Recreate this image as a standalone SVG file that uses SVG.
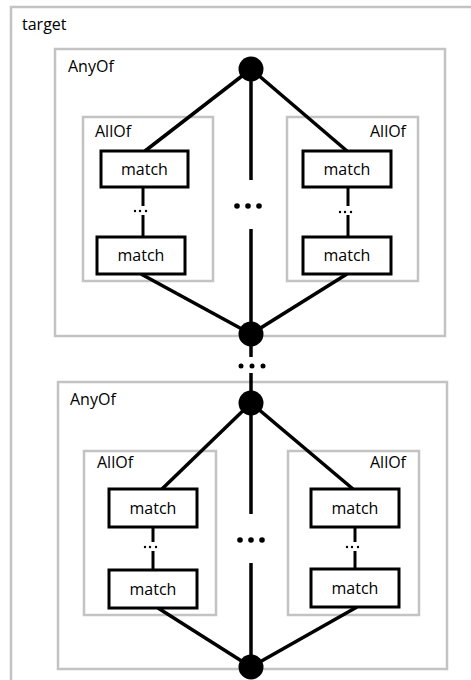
<svg xmlns="http://www.w3.org/2000/svg" width="471" height="680" viewBox="0 0 471 680">
<style>
.box{fill:none;stroke:#c3c3c3;stroke-width:2.5}
.m{fill:#fff;stroke:#000;stroke-width:3}
.lbl{font-family:"Open Sans","Liberation Sans",Arial,sans-serif;font-size:16px;fill:#000}
.mt{font-family:"Open Sans","Liberation Sans",Arial,sans-serif;font-size:16px;fill:#000;text-anchor:middle}
.c{stroke:#000;stroke-width:3.5;fill:none}
.thin{stroke:#000;stroke-width:3;fill:none}
.dot{fill:#000}
</style>
<rect width="471" height="680" fill="#fff"/>
<g id="target">
<rect class="box" x="11" y="7" width="475" height="690"/>
<text class="lbl" x="22" y="30">target</text>
</g>
<g id="anyof1">
<rect class="box" x="55" y="49" width="390" height="287"/>
<text class="lbl" x="68" y="72">AnyOf</text>
</g>
<g id="allof1a">
<rect class="box" x="83" y="117" width="130" height="164"/>
<text class="lbl" x="95" y="137">AllOf</text>
</g>
<g id="allof1b">
<rect class="box" x="287" y="117" width="131" height="164"/>
<text class="lbl" x="406" y="137" text-anchor="end">AllOf</text>
</g>
<g id="anyof2">
<rect class="box" x="58" y="382" width="389" height="287"/>
<text class="lbl" x="70" y="405">AnyOf</text>
</g>
<g id="allof2a">
<rect class="box" x="84" y="451" width="132" height="164"/>
<text class="lbl" x="97" y="468">AllOf</text>
</g>
<g id="allof2b">
<rect class="box" x="288" y="451" width="131" height="164"/>
<text class="lbl" x="406" y="468" text-anchor="end">AllOf</text>
</g>
<g id="connectors">
<line class="c" x1="251" y1="69" x2="145" y2="151"/>
<line class="c" x1="251" y1="69" x2="347" y2="151"/>
<line class="c" x1="251" y1="69" x2="251" y2="180"/>
<line class="c" x1="251" y1="229" x2="251" y2="334"/>
<line class="c" x1="141" y1="274" x2="251" y2="334"/>
<line class="c" x1="347" y1="274" x2="251" y2="334"/>
<line class="thin" x1="143" y1="187" x2="143" y2="206"/>
<line class="thin" x1="143" y1="215" x2="143" y2="237"/>
<line class="thin" x1="348" y1="187" x2="348" y2="206"/>
<line class="thin" x1="348" y1="215" x2="348" y2="237"/>
<line class="c" x1="251" y1="334" x2="251" y2="357"/>
<line class="c" x1="251" y1="373" x2="251" y2="403"/>
<line class="c" x1="251" y1="403" x2="162" y2="489"/>
<line class="c" x1="251" y1="403" x2="353" y2="489"/>
<line class="c" x1="251" y1="403" x2="251" y2="514"/>
<line class="c" x1="251" y1="563" x2="251" y2="667"/>
<line class="c" x1="158" y1="608" x2="251" y2="667"/>
<line class="c" x1="357" y1="607" x2="251" y2="667"/>
<line class="thin" x1="153" y1="527" x2="153" y2="542"/>
<line class="thin" x1="153" y1="551" x2="153" y2="570"/>
<line class="thin" x1="355" y1="527" x2="355" y2="542"/>
<line class="thin" x1="355" y1="551" x2="355" y2="570"/>
</g>
<g id="dots">
<circle class="dot" cx="237" cy="206" r="2.8"/><circle class="dot" cx="248" cy="206" r="2.8"/><circle class="dot" cx="259" cy="206" r="2.8"/>
<circle class="dot" cx="241" cy="366" r="2.5"/><circle class="dot" cx="252" cy="366" r="2.5"/><circle class="dot" cx="263" cy="366" r="2.5"/>
<circle class="dot" cx="240" cy="540" r="2.8"/><circle class="dot" cx="251" cy="540" r="2.8"/><circle class="dot" cx="262" cy="540" r="2.8"/>
<circle class="dot" cx="135" cy="211" r="1.2"/><circle class="dot" cx="140" cy="211" r="1.2"/><circle class="dot" cx="146" cy="211" r="1.2"/>
<circle class="dot" cx="340" cy="212" r="1.2"/><circle class="dot" cx="345" cy="212" r="1.2"/><circle class="dot" cx="351" cy="212" r="1.2"/>
<circle class="dot" cx="145" cy="547" r="1.2"/><circle class="dot" cx="150" cy="547" r="1.2"/><circle class="dot" cx="156" cy="547" r="1.2"/>
<circle class="dot" cx="347" cy="547" r="1.2"/><circle class="dot" cx="352" cy="547" r="1.2"/><circle class="dot" cx="358" cy="547" r="1.2"/>
</g>
<g id="n1"><circle class="dot" cx="251" cy="69" r="12.5"/></g>
<g id="n2"><circle class="dot" cx="251" cy="334" r="12.5"/></g>
<g id="n3"><circle class="dot" cx="251" cy="403" r="12.5"/></g>
<g id="n4"><circle class="dot" cx="251" cy="667" r="12.5"/></g>
<g id="match1"><rect class="m" x="101" y="151" width="87" height="36"/><text class="mt" x="144.5" y="175">match</text></g>
<g id="match2"><rect class="m" x="97" y="237" width="88" height="37"/><text class="mt" x="141" y="261">match</text></g>
<g id="match3"><rect class="m" x="303" y="151" width="88" height="36"/><text class="mt" x="347" y="175">match</text></g>
<g id="match4"><rect class="m" x="303" y="237" width="88" height="37"/><text class="mt" x="347" y="261">match</text></g>
<g id="match5"><rect class="m" x="109" y="489" width="88" height="38"/><text class="mt" x="153" y="514">match</text></g>
<g id="match6"><rect class="m" x="109" y="570" width="88" height="38"/><text class="mt" x="153" y="595">match</text></g>
<g id="match7"><rect class="m" x="311" y="489" width="88" height="38"/><text class="mt" x="355" y="514">match</text></g>
<g id="match8"><rect class="m" x="311" y="569" width="88" height="38"/><text class="mt" x="355" y="594">match</text></g>
</svg>
